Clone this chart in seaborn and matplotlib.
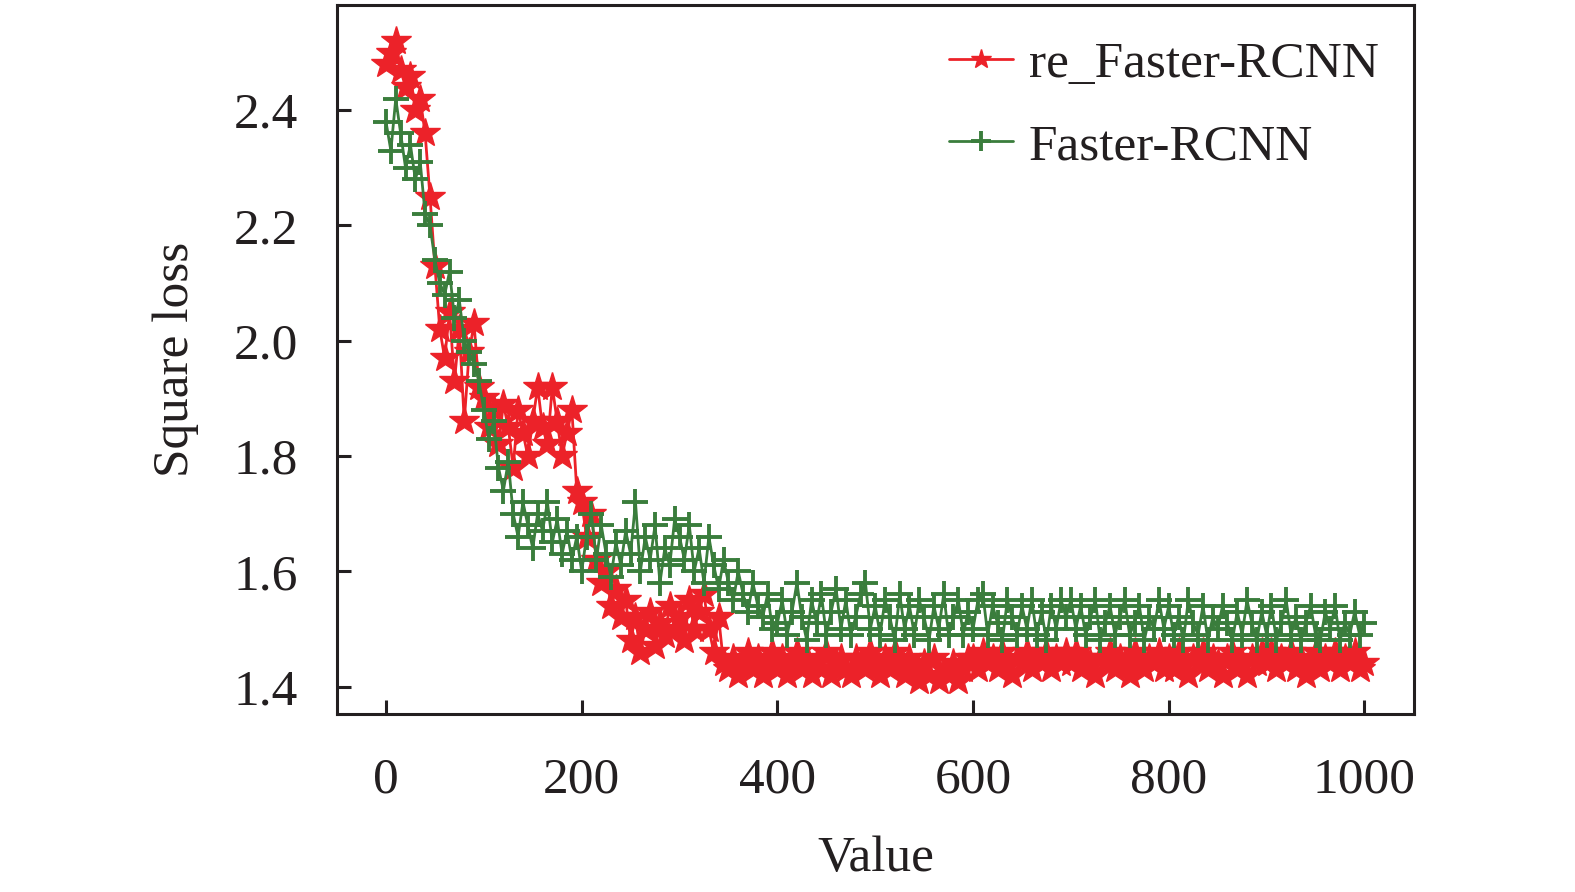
import matplotlib
matplotlib.use("Agg")
import matplotlib.pyplot as plt
import numpy as np
import pandas as pd
import seaborn as sns

# iteraciones cada 5 pasos, valores leidos a ojo de la figura
iters = list(range(0, 1001, 5))

re_faster = [
    2.48, 2.50, 2.52, 2.47, 2.44, 2.46, 2.40, 2.42, 2.36, 2.25, 2.13, 2.02, 1.97, 2.05, 1.93, 2.02, 1.86, 1.98, 2.03, 1.92,
    1.90, 1.85, 1.88, 1.82, 1.89, 1.85, 1.78, 1.88, 1.84, 1.80, 1.86, 1.92, 1.85, 1.82, 1.92, 1.86, 1.80, 1.84, 1.88, 1.74,
    1.72, 1.66, 1.70, 1.62, 1.58, 1.60, 1.54, 1.57, 1.52, 1.55, 1.48, 1.52, 1.46, 1.50, 1.53, 1.47, 1.51, 1.49, 1.54, 1.50,
    1.52, 1.48, 1.55, 1.50, 1.53, 1.56, 1.50, 1.46, 1.52, 1.44, 1.43, 1.45, 1.42, 1.44, 1.46, 1.43, 1.45, 1.42, 1.44, 1.46,
    1.43, 1.45, 1.42, 1.44, 1.46, 1.43, 1.45, 1.42, 1.44, 1.43, 1.46, 1.42, 1.44, 1.45, 1.43, 1.42, 1.45, 1.44, 1.43, 1.46,
    1.44, 1.42, 1.45, 1.43, 1.46, 1.44, 1.42, 1.45, 1.43, 1.41, 1.44, 1.42, 1.45, 1.41, 1.43, 1.42, 1.44, 1.41, 1.43, 1.45,
    1.45, 1.43, 1.46, 1.44, 1.45, 1.43, 1.46, 1.44, 1.42, 1.45, 1.44, 1.46, 1.43, 1.45, 1.44, 1.46, 1.43, 1.45, 1.44, 1.46,
    1.44, 1.46, 1.43, 1.45, 1.44, 1.42, 1.45, 1.44, 1.46, 1.43, 1.45, 1.44, 1.42, 1.46, 1.44, 1.43, 1.45, 1.44, 1.46, 1.43,
    1.45, 1.43, 1.46, 1.44, 1.42, 1.45, 1.44, 1.46, 1.43, 1.45, 1.44, 1.42, 1.45, 1.46, 1.43, 1.44, 1.42, 1.45, 1.44, 1.46,
    1.44, 1.46, 1.43, 1.45, 1.44, 1.46, 1.43, 1.45, 1.42, 1.44, 1.46, 1.43, 1.45, 1.44, 1.46, 1.43, 1.45, 1.44, 1.46, 1.43,
    1.44,
]

faster = [
    2.38, 2.33, 2.42, 2.36, 2.30, 2.34, 2.28, 2.31, 2.22, 2.20, 2.14, 2.10, 2.08, 2.12, 2.04, 2.07, 2.00, 1.98, 1.96, 1.93,
    1.88, 1.83, 1.86, 1.78, 1.74, 1.79, 1.70, 1.66, 1.72, 1.68, 1.64, 1.70, 1.67, 1.72, 1.65, 1.69, 1.63, 1.67, 1.62, 1.66,
    1.60, 1.66, 1.70, 1.62, 1.68, 1.63, 1.59, 1.65, 1.61, 1.67, 1.63, 1.72, 1.60, 1.66, 1.62, 1.68, 1.58, 1.64, 1.61, 1.69,
    1.66, 1.62, 1.68, 1.60, 1.64, 1.58, 1.66, 1.61, 1.57, 1.62, 1.58, 1.55, 1.60, 1.56, 1.53, 1.58, 1.54, 1.52, 1.56, 1.50,
    1.51, 1.55, 1.49, 1.53, 1.58, 1.52, 1.48, 1.55, 1.51, 1.56, 1.49, 1.53, 1.57, 1.50, 1.55, 1.49, 1.52, 1.56, 1.58, 1.50,
    1.54, 1.49, 1.55, 1.52, 1.48, 1.56, 1.50, 1.54, 1.49, 1.55, 1.52, 1.48, 1.54, 1.50, 1.56, 1.49, 1.52, 1.55, 1.49, 1.53,
    1.50, 1.55, 1.56, 1.49, 1.54, 1.51, 1.48, 1.55, 1.52, 1.49, 1.54, 1.50, 1.55, 1.49, 1.53, 1.48, 1.54, 1.50, 1.55, 1.52,
    1.55, 1.50, 1.54, 1.49, 1.52, 1.55, 1.48, 1.51, 1.54, 1.49, 1.52, 1.55, 1.49, 1.51, 1.54, 1.48, 1.52, 1.50, 1.55, 1.50,
    1.54, 1.49, 1.52, 1.48, 1.55, 1.51, 1.49, 1.54, 1.48, 1.52, 1.50, 1.54, 1.51, 1.48, 1.53, 1.49, 1.55, 1.51, 1.48, 1.53,
    1.49, 1.54, 1.48, 1.51, 1.55, 1.49, 1.52, 1.48, 1.51, 1.54, 1.49, 1.48, 1.53, 1.50, 1.54, 1.48, 1.51, 1.49, 1.53, 1.49,
    1.51,
]

x_ticks = [0, 200, 400, 600, 800, 1000]
y_ticks = [1.4, 1.6, 1.8, 2.0, 2.2, 2.4]

sns.set_style("ticks")
plt.rcParams['font.family'] = ['Liberation Serif', 'DejaVu Serif']

rojo = '#ec2229'
verde = '#3a7d3c'
negro = '#231f20'

fig = plt.figure(figsize=(15.75, 8.92), dpi=100)
ax = fig.add_axes([0.214, 0.2, 0.684, 0.794])

sns.lineplot(x=iters, y=re_faster, ax=ax, color=rojo, linewidth=2,
             marker='*', markersize=22, markeredgecolor=rojo, markeredgewidth=1,
             label='re_Faster-RCNN', estimator=None, sort=False)
sns.lineplot(x=iters, y=faster, ax=ax, color=verde, linewidth=2,
             marker='+', markersize=19, markeredgecolor=verde, markeredgewidth=2.8,
             label='Faster-RCNN', estimator=None, sort=False)

ax.set_xlim(-50, 1051)
ax.set_ylim(1.353, 2.582)
ax.set_xticks(x_ticks)
ax.set_yticks(y_ticks)
ax.set_yticklabels([f'{v:.1f}' for v in y_ticks])

for s in ax.spines.values():
    s.set_linewidth(2.2)
    s.set_color(negro)

ax.tick_params(axis='both', direction='in', length=10, width=2.2, labelsize=37,
               colors=negro, top=False, right=False)
ax.tick_params(axis='x', pad=31)
ax.tick_params(axis='y', pad=28)

ax.set_xlabel('Value', fontsize=37, color=negro, labelpad=23)
ax.set_ylabel('Square loss', fontsize=37, color=negro, labelpad=25)

leg = ax.legend(loc='upper right', frameon=False, fontsize=37, handlelength=1.25,
                handletextpad=0.3, labelspacing=0.68, borderaxespad=0.3, numpoints=1)
for h in leg.legend_handles:
    h.set_markersize(15)
for t in leg.get_texts():
    t.set_color(negro)

fig.savefig('out.png', dpi=100)
